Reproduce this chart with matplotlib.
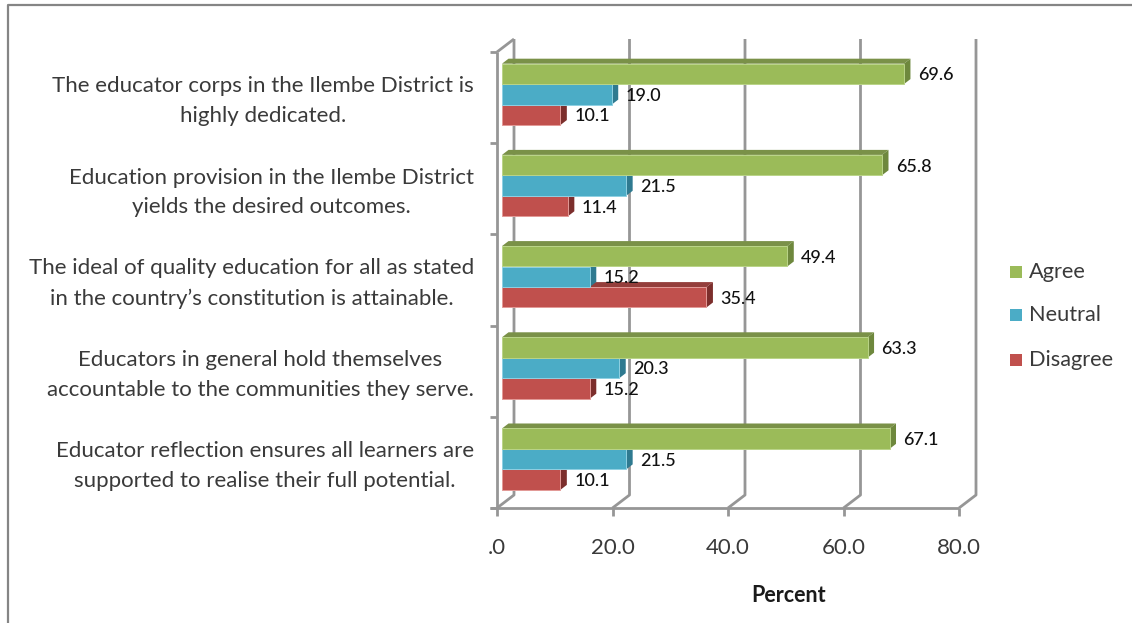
#!/usr/bin/env python3
"""Horizontal clustered bars with an Excel-style 3-D look: agreement with five statements."""
import matplotlib
matplotlib.use("Agg")
import matplotlib.pyplot as plt
from matplotlib.lines import Line2D
from matplotlib.patches import Rectangle

CATEGORIES = [
    "The educator corps in the Ilembe District is\nhighly dedicated.",
    "Education provision in the Ilembe District\nyields the desired outcomes.",
    "The ideal of quality education for all as stated\nin the country\u2019s constitution is attainable.",
    "Educators in general hold themselves\naccountable to the communities they serve.",
    "Educator reflection ensures all learners are\nsupported to realise their full potential.",
]
SERIES = ["Agree", "Neutral", "Disagree"]
AGREE = [69.6, 65.8, 49.4, 63.3, 67.1]
NEUTRAL = [19.0, 21.5, 15.2, 20.3, 21.5]
DISAGREE = [10.1, 11.4, 35.4, 15.2, 10.1]
X_TICKS = [0, 20, 40, 60, 80]
X_TICK_LABELS = [".0", "20.0", "40.0", "60.0", "80.0"]

W, H = 1132, 623
LEFT, RIGHT, TOP, BOTTOM = 497, 959, 52, 508
X_PX = (RIGHT - LEFT) / 80
Y_PX = (BOTTOM - TOP) / 5

FRONT = ["#9BBB59", "#4BACC6", "#C0504D"]
SIDE = ["#6E883D", "#2F7A90", "#7C2E2C"]
ROOF = ["#7A9148", "#35869E", "#943E3B"]
EDGE = ["#BAD488", "#8FD0E2", "#E39A97"]
AXIS_COL = "#969696"
TEXT_COL = "#3A3A3A"
FONT = "Lato"


def px_x(px):
    return px / X_PX


def px_y(px):
    return px / Y_PX


def draw_bar(ax, value, y_mid, k):
    bar_h = px_y(20.4)
    x0 = px_x(5)
    x1 = x0 + value
    top, bot = y_mid - bar_h / 2, y_mid + bar_h / 2
    dx, dy = px_x(6.5), px_y(5)
    ax.fill([x0, x1, x1 + dx, x0 + dx], [top, top, top - dy, top - dy],
            color=ROOF[k], lw=0, zorder=3, clip_on=False)
    ax.fill([x1, x1 + dx, x1 + dx, x1], [top, top - dy, bot - dy, bot],
            color=SIDE[k], lw=0, zorder=3, clip_on=False)
    ax.add_patch(Rectangle((x0, top), value, bar_h, facecolor=FRONT[k], edgecolor=EDGE[k],
                           lw=0.7, zorder=3, clip_on=False))
    ax.text(x1 + px_x(14), y_mid, f"{value:.1f}", ha="left", va="center_baseline", fontsize=13,
            family=FONT, fontweight="medium", color="#111111", zorder=5)


def main():
    fig = plt.figure(figsize=(W / 100, H / 100), dpi=100, facecolor="white")

    # outer chart frame, cut off by the right and bottom edges of the image
    fig.add_artist(Line2D([7.5 / W, 7.5 / W, 1], [0, 1 - 4.5 / H, 1 - 4.5 / H],
                          color="#858585", lw=1.6))

    ax = fig.add_axes([LEFT / W, 1 - BOTTOM / H, (RIGHT - LEFT) / W, (BOTTOM - TOP) / H])
    ax.set_xlim(0, 80)
    ax.set_ylim(5, 0)
    ax.axis("off")

    axis_kw = dict(color=AXIS_COL, lw=2.0, clip_on=False, solid_capstyle="butt")
    wall_dx, wall_dy = px_x(17), px_y(13)

    # back wall gridlines and the floor diagonals leading to them
    for t in X_TICKS:
        ax.plot([t, t + wall_dx, t + wall_dx], [5, 5 - wall_dy, -wall_dy], zorder=1, **axis_kw)
        ax.plot([t, t], [5, 5 + px_y(8)], zorder=1, **axis_kw)
    ax.plot([0, wall_dx], [0, -wall_dy], zorder=1, **axis_kw)

    # front axes with their tick marks
    ax.plot([0, 0], [0, 5], zorder=2, **axis_kw)
    ax.plot([-px_x(7), 80], [5, 5], zorder=2, **axis_kw)
    for i in range(6):
        ax.plot([-px_x(7), 0], [i, i], zorder=2, **axis_kw)

    for i in range(len(CATEGORIES)):
        mid = i + 0.24
        # lowest bar first so the roofs fall behind the bar above
        for k, values in reversed(list(enumerate([AGREE, NEUTRAL, DISAGREE]))):
            draw_bar(ax, values[i], mid + k * px_y(20.5), k)
        ax.text(-px_x(23), i + 0.5 + px_y(3.5), CATEGORIES[i], ha="right", va="center",
                multialignment="center", fontsize=16, family=FONT, color=TEXT_COL, linespacing=1.6)

    for t, label in zip(X_TICKS, X_TICK_LABELS):
        ax.text(t, 5 + px_y(40), label, ha="center", va="center", fontsize=16,
                family=FONT, color=TEXT_COL)
    ax.text(px_x(292), 5 + px_y(87), "Percent", ha="center", va="center", fontsize=15.5,
            family=FONT, fontweight="bold", color="#1A1A1A")

    # legend entries
    for k, (name, y_px) in enumerate(zip(SERIES, [272, 315, 360])):
        fig.add_artist(Rectangle((1010 / W, 1 - (y_px + 6) / H), 12 / W, 12 / H,
                                 facecolor=FRONT[k], edgecolor="none"))
        fig.text(1029 / W, 1 - y_px / H, name, ha="left", va="center", fontsize=15.7,
                 family=FONT, color=TEXT_COL)

    fig.savefig("out.png", dpi=100)


if __name__ == "__main__":
    main()
